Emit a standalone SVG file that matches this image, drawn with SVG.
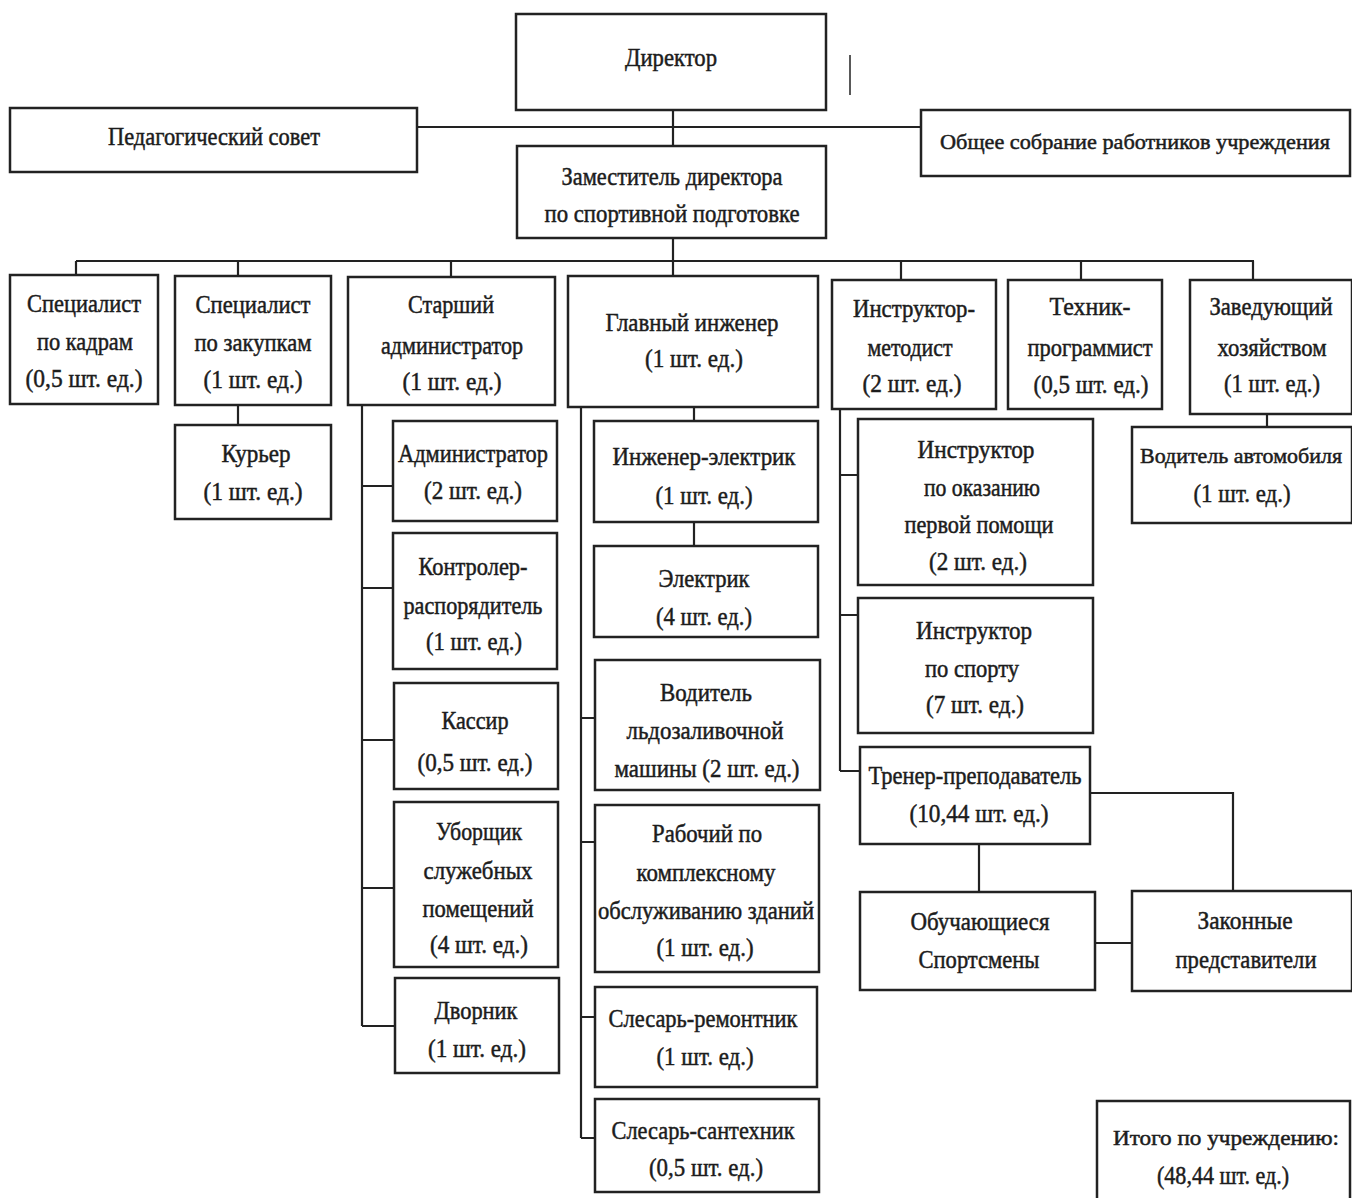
<svg xmlns="http://www.w3.org/2000/svg" width="1352" height="1198" viewBox="0 0 1352 1198">
<style>
.b{fill:#fff;stroke:#222;stroke-width:2.5}
.t{font-family:"Liberation Serif","Times New Roman",serif;font-size:26px;text-anchor:middle;dominant-baseline:central;fill:#1c1c1c;stroke:#1c1c1c;stroke-width:0.5}
.s{font-size:22px}
.c{fill:none;stroke:#222;stroke-width:2.2}
</style>
<rect width="1352" height="1198" fill="#fff"/>
<g id="connectors" class="c">
<path d="M673 110V146M417 127H921M673 238V261M76 261H1254"/>
<path d="M76 261V275M238 261V276M451 261V277M673 261V276M901 261V280M1081 261V280M1253 261V280"/>
<path d="M238 405V425"/>
<path d="M362 405V1026M362 486H393M362 588H393M362 740H394M362 888H394M362 1026H395"/>
<path d="M581 407V1138M694 407V421M694 522V546M581 718H595M581 842H595M581 1017H595M581 1138H595"/>
<path d="M840 409V771M840 475H858M840 615H858M840 771H860"/>
<path d="M1090 793H1233V891M979 844V892M1095 943H1132"/>
<path d="M1267 414V427"/>
<path d="M850 55V95" stroke-width="1.5"/>
</g>
<g id="director"><rect class="b" x="516" y="14" width="310" height="96"/><text class="t" x="671" y="57" textLength="92" lengthAdjust="spacingAndGlyphs">Директор</text></g>
<g id="pedsovet"><rect class="b" x="10" y="108" width="407" height="64"/><text class="t" x="214" y="136" textLength="212" lengthAdjust="spacingAndGlyphs">Педагогический совет</text></g>
<g id="sobranie"><rect class="b" x="921" y="110" width="429" height="66"/><text class="t s" x="1135" y="141" textLength="390" lengthAdjust="spacingAndGlyphs">Общее собрание работников учреждения</text></g>
<g id="zam"><rect class="b" x="517" y="146" width="309" height="92"/><text class="t" x="672" y="176" textLength="221" lengthAdjust="spacingAndGlyphs">Заместитель директора</text><text class="t" x="672" y="213" textLength="255" lengthAdjust="spacingAndGlyphs">по спортивной подготовке</text></g>
<g id="kadry"><rect class="b" x="10" y="275" width="148" height="129"/><text class="t" x="84" y="303" textLength="114" lengthAdjust="spacingAndGlyphs">Специалист</text><text class="t" x="85" y="341" textLength="96" lengthAdjust="spacingAndGlyphs">по кадрам</text><text class="t" x="84" y="378" textLength="117" lengthAdjust="spacingAndGlyphs">(0,5 шт. ед.)</text></g>
<g id="zakupki"><rect class="b" x="175" y="276" width="156" height="129"/><text class="t" x="253" y="304" textLength="115" lengthAdjust="spacingAndGlyphs">Специалист</text><text class="t" x="253" y="342" textLength="117" lengthAdjust="spacingAndGlyphs">по закупкам</text><text class="t" x="253" y="379" textLength="99" lengthAdjust="spacingAndGlyphs">(1 шт. ед.)</text></g>
<g id="st_admin"><rect class="b" x="348" y="277" width="207" height="128"/><text class="t" x="451" y="304" textLength="86" lengthAdjust="spacingAndGlyphs">Старший</text><text class="t" x="452" y="345" textLength="142" lengthAdjust="spacingAndGlyphs">администратор</text><text class="t" x="452" y="381" textLength="99" lengthAdjust="spacingAndGlyphs">(1 шт. ед.)</text></g>
<g id="gl_ing"><rect class="b" x="568" y="276" width="250" height="131"/><text class="t" x="692" y="322" textLength="173" lengthAdjust="spacingAndGlyphs">Главный инженер</text><text class="t" x="694" y="358" textLength="98" lengthAdjust="spacingAndGlyphs">(1 шт. ед.)</text></g>
<g id="metodist"><rect class="b" x="832" y="280" width="164" height="129"/><text class="t" x="914" y="308" textLength="122" lengthAdjust="spacingAndGlyphs">Инструктор-</text><text class="t" x="910" y="347" textLength="85" lengthAdjust="spacingAndGlyphs">методист</text><text class="t" x="912" y="383" textLength="99" lengthAdjust="spacingAndGlyphs">(2 шт. ед.)</text></g>
<g id="tehnik"><rect class="b" x="1008" y="280" width="154" height="129"/><text class="t" x="1090" y="306" textLength="81" lengthAdjust="spacingAndGlyphs">Техник-</text><text class="t" x="1090" y="347" textLength="125" lengthAdjust="spacingAndGlyphs">программист</text><text class="t" x="1091" y="384" textLength="115" lengthAdjust="spacingAndGlyphs">(0,5 шт. ед.)</text></g>
<g id="zaved"><rect class="b" x="1190" y="280" width="162" height="134"/><text class="t" x="1271" y="306" textLength="123" lengthAdjust="spacingAndGlyphs">Заведующий</text><text class="t" x="1272" y="347" textLength="109" lengthAdjust="spacingAndGlyphs">хозяйством</text><text class="t" x="1272" y="383" textLength="96" lengthAdjust="spacingAndGlyphs">(1 шт. ед.)</text></g>
<g id="kurer"><rect class="b" x="175" y="425" width="156" height="94"/><text class="t" x="256" y="453" textLength="69" lengthAdjust="spacingAndGlyphs">Курьер</text><text class="t" x="253" y="491" textLength="99" lengthAdjust="spacingAndGlyphs">(1 шт. ед.)</text></g>
<g id="admin"><rect class="b" x="393" y="421" width="164" height="100"/><text class="t" x="473" y="453" textLength="150" lengthAdjust="spacingAndGlyphs">Администратор</text><text class="t" x="473" y="490" textLength="98" lengthAdjust="spacingAndGlyphs">(2 шт. ед.)</text></g>
<g id="kontroler"><rect class="b" x="393" y="533" width="164" height="136"/><text class="t" x="473" y="566" textLength="109" lengthAdjust="spacingAndGlyphs">Контролер-</text><text class="t" x="473" y="605" textLength="139" lengthAdjust="spacingAndGlyphs">распорядитель</text><text class="t" x="474" y="641" textLength="96" lengthAdjust="spacingAndGlyphs">(1 шт. ед.)</text></g>
<g id="kassir"><rect class="b" x="394" y="683" width="164" height="106"/><text class="t" x="475" y="720" textLength="67" lengthAdjust="spacingAndGlyphs">Кассир</text><text class="t" x="475" y="762" textLength="115" lengthAdjust="spacingAndGlyphs">(0,5 шт. ед.)</text></g>
<g id="uborshik"><rect class="b" x="394" y="802" width="164" height="165"/><text class="t" x="479" y="831" textLength="86" lengthAdjust="spacingAndGlyphs">Уборщик</text><text class="t" x="478" y="870" textLength="109" lengthAdjust="spacingAndGlyphs">служебных</text><text class="t" x="478" y="908" textLength="111" lengthAdjust="spacingAndGlyphs">помещений</text><text class="t" x="479" y="944" textLength="98" lengthAdjust="spacingAndGlyphs">(4 шт. ед.)</text></g>
<g id="dvornik"><rect class="b" x="395" y="978" width="164" height="95"/><text class="t" x="476" y="1010" textLength="83" lengthAdjust="spacingAndGlyphs">Дворник</text><text class="t" x="477" y="1048" textLength="98" lengthAdjust="spacingAndGlyphs">(1 шт. ед.)</text></g>
<g id="ing_el"><rect class="b" x="594" y="421" width="224" height="101"/><text class="t" x="704" y="456" textLength="183" lengthAdjust="spacingAndGlyphs">Инженер-электрик</text><text class="t" x="704" y="495" textLength="97" lengthAdjust="spacingAndGlyphs">(1 шт. ед.)</text></g>
<g id="elektrik"><rect class="b" x="594" y="546" width="224" height="91"/><text class="t" x="704" y="578" textLength="91" lengthAdjust="spacingAndGlyphs">Электрик</text><text class="t" x="704" y="616" textLength="96" lengthAdjust="spacingAndGlyphs">(4 шт. ед.)</text></g>
<g id="voditel_led"><rect class="b" x="595" y="660" width="225" height="130"/><text class="t" x="706" y="692" textLength="92" lengthAdjust="spacingAndGlyphs">Водитель</text><text class="t" x="705" y="730" textLength="157" lengthAdjust="spacingAndGlyphs">льдозаливочной</text><text class="t" x="707" y="768" textLength="185" lengthAdjust="spacingAndGlyphs">машины (2 шт. ед.)</text></g>
<g id="rabochiy"><rect class="b" x="595" y="805" width="224" height="167"/><text class="t" x="707" y="833" textLength="110" lengthAdjust="spacingAndGlyphs">Рабочий по</text><text class="t" x="706" y="872" textLength="139" lengthAdjust="spacingAndGlyphs">комплексному</text><text class="t" x="706" y="910" textLength="216" lengthAdjust="spacingAndGlyphs">обслуживанию зданий</text><text class="t" x="705" y="947" textLength="97" lengthAdjust="spacingAndGlyphs">(1 шт. ед.)</text></g>
<g id="sl_rem"><rect class="b" x="595" y="987" width="222" height="100"/><text class="t" x="703" y="1018" textLength="189" lengthAdjust="spacingAndGlyphs">Слесарь-ремонтник</text><text class="t" x="705" y="1056" textLength="97" lengthAdjust="spacingAndGlyphs">(1 шт. ед.)</text></g>
<g id="sl_san"><rect class="b" x="595" y="1099" width="224" height="93"/><text class="t" x="703" y="1130" textLength="183" lengthAdjust="spacingAndGlyphs">Слесарь-сантехник</text><text class="t" x="706" y="1167" textLength="114" lengthAdjust="spacingAndGlyphs">(0,5 шт. ед.)</text></g>
<g id="instr_pomosh"><rect class="b" x="858" y="419" width="235" height="166"/><text class="t" x="976" y="449" textLength="117" lengthAdjust="spacingAndGlyphs">Инструктор</text><text class="t" x="982" y="487" textLength="116" lengthAdjust="spacingAndGlyphs">по оказанию</text><text class="t" x="979" y="524" textLength="149" lengthAdjust="spacingAndGlyphs">первой помощи</text><text class="t" x="978" y="561" textLength="98" lengthAdjust="spacingAndGlyphs">(2 шт. ед.)</text></g>
<g id="instr_sport"><rect class="b" x="858" y="598" width="235" height="135"/><text class="t" x="974" y="630" textLength="116" lengthAdjust="spacingAndGlyphs">Инструктор</text><text class="t" x="972" y="668" textLength="94" lengthAdjust="spacingAndGlyphs">по спорту</text><text class="t" x="975" y="704" textLength="98" lengthAdjust="spacingAndGlyphs">(7 шт. ед.)</text></g>
<g id="trener"><rect class="b" x="860" y="747" width="230" height="97"/><text class="t" x="975" y="775" textLength="213" lengthAdjust="spacingAndGlyphs">Тренер-преподаватель</text><text class="t" x="979" y="813" textLength="139" lengthAdjust="spacingAndGlyphs">(10,44 шт. ед.)</text></g>
<g id="obuch"><rect class="b" x="860" y="892" width="235" height="98"/><text class="t" x="980" y="921" textLength="139" lengthAdjust="spacingAndGlyphs">Обучающиеся</text><text class="t" x="979" y="959" textLength="121" lengthAdjust="spacingAndGlyphs">Спортсмены</text></g>
<g id="zakonnye"><rect class="b" x="1132" y="891" width="220" height="100"/><text class="t" x="1245" y="920" textLength="95" lengthAdjust="spacingAndGlyphs">Законные</text><text class="t" x="1246" y="959" textLength="141" lengthAdjust="spacingAndGlyphs">представители</text></g>
<g id="voditel_avto"><rect class="b" x="1132" y="427" width="220" height="96"/><text class="t s" x="1241" y="455" textLength="202" lengthAdjust="spacingAndGlyphs">Водитель автомобиля</text><text class="t" x="1242" y="493" textLength="97" lengthAdjust="spacingAndGlyphs">(1 шт. ед.)</text></g>
<g id="itogo"><rect class="b" x="1097" y="1101" width="253" height="104"/><text class="t s" x="1226" y="1137" textLength="226" lengthAdjust="spacingAndGlyphs">Итого по учреждению:</text><text class="t" x="1223" y="1175" textLength="132" lengthAdjust="spacingAndGlyphs">(48,44 шт. ед.)</text></g>
</svg>
